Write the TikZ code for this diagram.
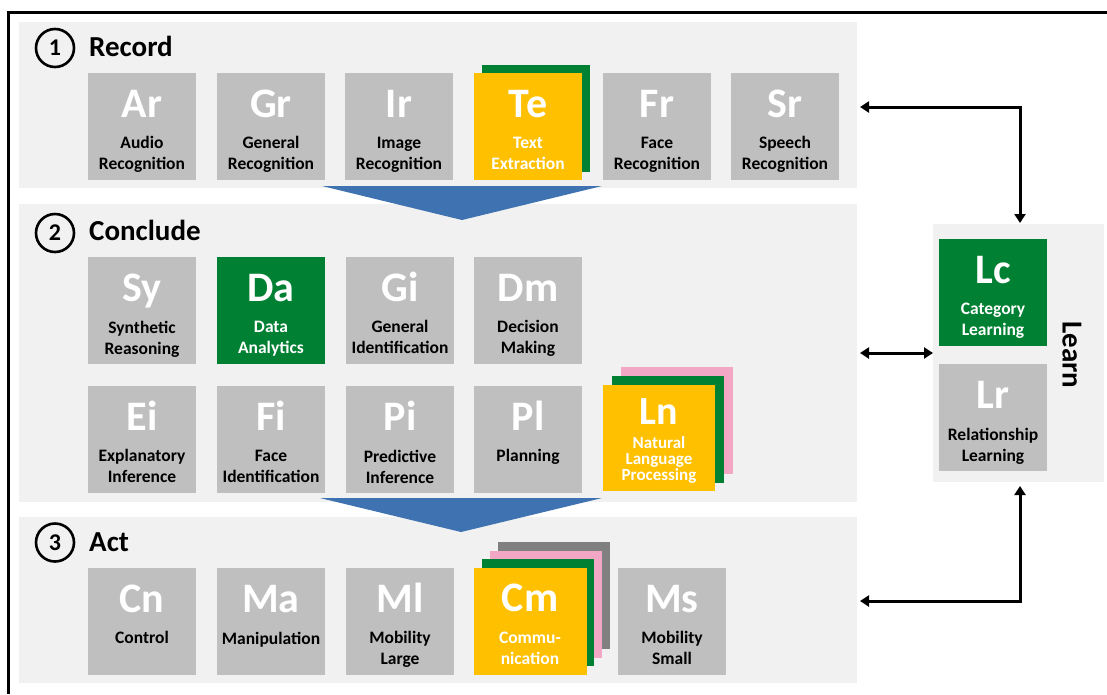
\documentclass[tikz,border=0pt]{standalone}
\usepackage{fontspec}
\setmainfont{Carlito}
\usetikzlibrary{arrows.meta}
\definecolor{panelgray}{RGB}{241,241,241}
\definecolor{tilegray}{RGB}{191,191,191}
\definecolor{tileyellow}{RGB}{255,192,0}
\definecolor{tilegreen}{RGB}{0,128,50}
\definecolor{tilepink}{RGB}{242,168,196}
\definecolor{tiledark}{RGB}{128,128,128}
\definecolor{flowblue}{RGB}{62,114,176}
\tikzset{
  panel/.style={fill=panelgray, draw=none, inner sep=0pt, outer sep=0pt},
  tilesh/.style={draw=none, inner sep=0pt, minimum width=108pt, minimum height=107pt},
  abbrsh/.style={anchor=base, inner sep=0pt, text=white, font=\fontsize{42}{42}\selectfont\bfseries},
  labsh/.style={anchor=north, inner sep=0pt, align=center, font=\fontsize{17.5}{21}\selectfont\bfseries},
  heading/.style={anchor=base west, inner sep=0pt, font=\fontsize{29}{29}\selectfont\bfseries},
  numcirc/.style={circle, draw=black, line width=2.6pt, minimum size=38pt, inner sep=0pt, font=\fontsize{24}{24}\selectfont\bfseries},
  arr/.style={line width=3pt, {Triangle[length=9pt,width=11pt]}-{Triangle[length=9pt,width=11pt]}},
}
\newcommand{\tilebox}[7]{%
  \node[tilesh, fill=#4] (#1) at (#2+54,#3+53.5) {};
  \node[abbrsh] (#1-a) at (#2+54,#3+44) {#6};
  \node[labsh, text=#5] (#1-l) at (#2+54,#3+63.5) {#7};
}
\begin{document}
\begin{tikzpicture}[x=1pt,y=-1pt]
\useasboundingbox (0,0) rectangle (1107,694);
% outer frame (cut by the page at right and bottom)
\draw[line width=3pt] (1107,12) -- (8,12) -- (8,694);
% panels
\node[panel, minimum width=838pt, minimum height=166pt] (p1) at (438,105) {};
\node[panel, minimum width=838pt, minimum height=298pt] (p2) at (438,353) {};
\node[panel, minimum width=838pt, minimum height=166pt] (p3) at (438,600) {};
\node[panel, minimum width=171pt, minimum height=258pt] (pl) at (1018.5,353) {};
% flow triangles
\fill[flowblue] (322,186) -- (602,186) -- (462,220) -- cycle;
\fill[flowblue] (320,498) -- (602,498) -- (461,532) -- cycle;
% headings
\node[numcirc] (c1) at (55,48) {1};
\node[heading] (h1) at (89,56.5) {Record};
\node[numcirc] (c2) at (55,233) {2};
\node[heading] (h2) at (89,240) {Conclude};
\node[numcirc] (c3) at (55,542.5) {3};
\node[heading] (h3) at (89,551) {Act};
% row 1
\tilebox{ar}{88}{73}{tilegray}{black}{Ar}{Audio\\Recognition}
\tilebox{gr}{217}{73}{tilegray}{black}{Gr}{General\\Recognition}
\tilebox{ir}{345}{73}{tilegray}{black}{Ir}{Image\\Recognition}
\node[tilesh, fill=tilegreen] (te-g) at (482+54,65+53.5) {};
\tilebox{te}{474}{73}{tileyellow}{white}{Te}{Text\\Extraction}
\tilebox{fr}{603}{73}{tilegray}{black}{Fr}{Face\\Recognition}
\tilebox{sr}{731}{73}{tilegray}{black}{Sr}{Speech\\Recognition}
% row 2
\tilebox{sy}{88}{257}{tilegray}{black}{Sy}{Synthetic\\Reasoning}
\tilebox{da}{217}{257}{tilegreen}{white}{Da}{Data\\Analytics}
\tilebox{gi}{346}{257}{tilegray}{black}{Gi}{General\\Identification}
\tilebox{dm}{474}{257}{tilegray}{black}{Dm}{Decision\\Making}
% row 3
\tilebox{ei}{88}{386}{tilegray}{black}{Ei}{Explanatory\\Inference}
\tilebox{fi}{217}{386}{tilegray}{black}{Fi}{Face\\Identification}
\tilebox{pi}{346}{386}{tilegray}{black}{Pi}{Predictive\\Inference}
\tilebox{pla}{474}{386}{tilegray}{black}{Pl}{Planning}
\node[tilesh, fill=tilepink, minimum width=112pt] (ln-p) at (621+56,367+53.5) {};
\node[tilesh, fill=tilegreen, minimum width=112pt] (ln-g) at (612+56,376+53.5) {};
\node[tilesh, fill=tileyellow, minimum width=112pt, minimum height=106pt] (ln) at (603+56,385+53) {};
\node[abbrsh, font=\fontsize{40}{40}\selectfont\bfseries] (ln-a) at (659,385+39.5) {Ln};
\node[labsh, text=white, font=\fontsize{17}{15.8}\selectfont\bfseries] (ln-l) at (659,385+51.5) {Natural\\Language\\Processing};
% row 4
\tilebox{cn}{88}{568}{tilegray}{black}{Cn}{Control}
\tilebox{ma}{217}{568}{tilegray}{black}{Ma}{Manipulation}
\tilebox{ml}{346}{568}{tilegray}{black}{Ml}{Mobility\\Large}
\node[tilesh, fill=tiledark, minimum width=112pt] (cm-d) at (498+56,542+53.5) {};
\node[tilesh, fill=tilepink, minimum width=112pt] (cm-p) at (490+56,551+53.5) {};
\node[tilesh, fill=tilegreen, minimum width=112pt] (cm-g) at (482+56,559+53.5) {};
\node[tilesh, fill=tileyellow, minimum width=113pt] (cm) at (473.5+56.5,568+53.5) {};
\node[abbrsh] (cm-a) at (530,568+43) {Cm};
\node[labsh, text=white] (cm-l) at (530,568+63.5) {Commu-\\nication};
\tilebox{ms}{618}{568}{tilegray}{black}{Ms}{Mobility\\Small}
% learn panel
\tilebox{lc}{939}{239}{tilegreen}{white}{Lc}{Category\\Learning}
\tilebox{lr}{939}{364}{tilegray}{black}{Lr}{Relationship\\Learning}
\node[rotate=-90, inner sep=0pt, font=\fontsize{29}{29}\selectfont\bfseries] (learn) at (1072,355) {Learn};
% connectors
\coordinate (a1s) at (860,107);
\coordinate (a1e) at (1020,223);
\draw[arr] (a1s) -| (a1e);
\coordinate (a2s) at (860,353);
\coordinate (a2e) at (933,353);
\draw[arr] (a2s) -- (a2e);
\coordinate (a3s) at (860,601);
\coordinate (a3e) at (1020,486);
\draw[arr] (a3s) -| (a3e);
\end{tikzpicture}
\end{document}
